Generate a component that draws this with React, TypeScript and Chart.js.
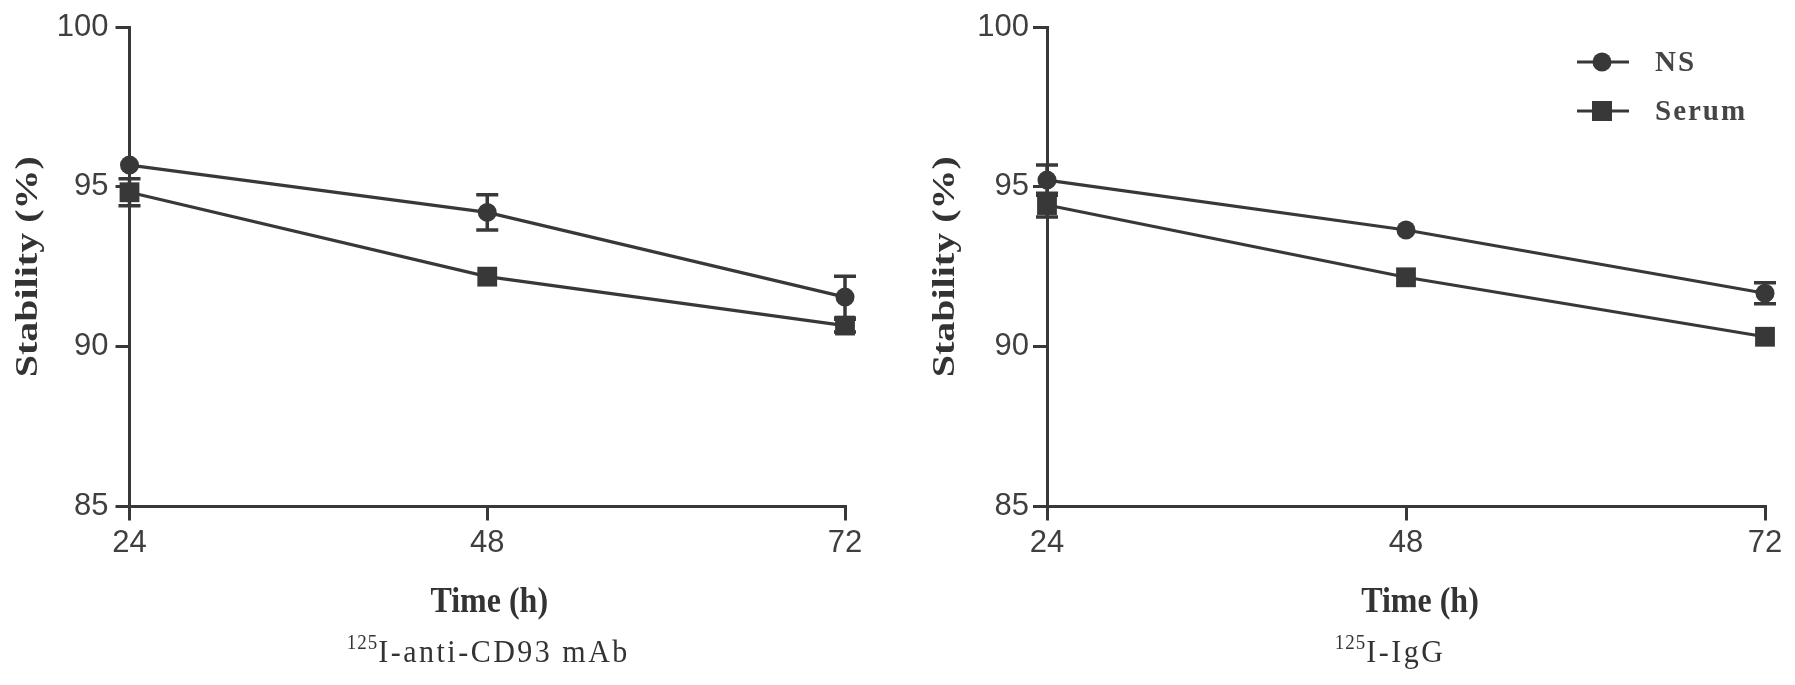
import React, { useEffect, useRef } from "react";
import { Chart, registerables } from "chart.js";

Chart.register(...registerables);

// ---------- data ----------
const timePoints = [24, 48, 72];
const xTickValues = [24, 48, 72];
const yTickValues = [85, 90, 95, 100];
const seriesNames = ["NS", "Serum"];

const cd93NS = [95.68, 94.2, 91.55];
const cd93NSErr = [0, 0.55, 0.65];
const cd93Serum = [94.83, 92.19, 90.66];
const cd93SerumErr = [0.42, 0, 0.2];

const iggNS = [95.21, 93.65, 91.67];
const iggNSErr = [0.47, 0, 0.33];
const iggSerum = [94.43, 92.17, 90.31];
const iggSerumErr = [0.37, 0, 0];

const yTitleText = "Stability (%)";
const xTitleText = "Time (h)";
const leftSubSup = "125";
const leftSubMain = "I-anti-CD93 mAb";
const rightSubSup = "125";
const rightSubMain = "I-IgG";

// ---------- style ----------
const INK = "#383838";
const TEXT = "#3f3f3f";
const H = 685;
const SANS = "'Liberation Sans', Arial, sans-serif";
const SERIF = "'Liberation Serif', 'Times New Roman', serif";

type Panel = {
  left: number;
  width: number;
  area: { left: number; right: number; top: number; bottom: number };
  ns: number[];
  nsErr: number[];
  serum: number[];
  serumErr: number[];
  sup: string;
  main: string;
  legend: boolean;
  tickPad: number;
  xTitleShift: number;
  subShift: number;
};

const panels: Panel[] = [
  {
    left: 0,
    width: 897,
    area: { left: 129.5, right: 845, top: 27, bottom: 506.5 },
    ns: cd93NS,
    nsErr: cd93NSErr,
    serum: cd93Serum,
    serumErr: cd93SerumErr,
    sup: leftSubSup,
    main: leftSubMain,
    legend: false,
    tickPad: 7,
    xTitleShift: 2,
    subShift: 1,
  },
  {
    left: 897,
    width: 898,
    area: { left: 150, right: 868, top: 27, bottom: 506.5 },
    ns: iggNS,
    nsErr: iggNSErr,
    serum: iggSerum,
    serumErr: iggSerumErr,
    sup: rightSubSup,
    main: rightSubMain,
    legend: true,
    tickPad: 4,
    xTitleShift: 14,
    subShift: -16,
  },
];

const errorBarPlugin = {
  id: "errorBars",
  afterDatasetsDraw(chart: any) {
    const ctx = chart.ctx;
    const yScale = chart.scales.y;
    chart.data.datasets.forEach((ds: any, di: number) => {
      const meta = chart.getDatasetMeta(di);
      const errs: number[] = ds.errors || [];
      meta.data.forEach((pt: any, i: number) => {
        const v = ds.data[i].y;
        const e = errs[i] || 0;
        if (!e) return;
        const yt = yScale.getPixelForValue(v + e);
        const yb = yScale.getPixelForValue(v - e);
        const x = pt.x;
        ctx.save();
        ctx.strokeStyle = INK;
        ctx.lineWidth = 3.5;
        ctx.beginPath();
        ctx.moveTo(x, yt);
        ctx.lineTo(x, yb);
        ctx.moveTo(x - 11, yt);
        ctx.lineTo(x + 11, yt);
        ctx.moveTo(x - 11, yb);
        ctx.lineTo(x + 11, yb);
        ctx.stroke();
        ctx.restore();
      });
    });
  },
};

function makeTextPlugin(p: Panel) {
  return {
    id: "panelText",
    afterDraw(chart: any) {
      const ctx = chart.ctx;
      const a = chart.chartArea;
      const cx = (a.left + a.right) / 2;
      ctx.save();
      ctx.fillStyle = "#333333";
      // y title (stretched along its length like the source image)
      ctx.save();
      ctx.translate(a.left - 101, (a.top + a.bottom) / 2);
      ctx.rotate(-Math.PI / 2);
      ctx.scale(1.25, 1);
      ctx.font = `bold 32px ${SERIF}`;
      (ctx as any).letterSpacing = "0px";
      ctx.textAlign = "center";
      ctx.textBaseline = "middle";
      ctx.fillText(yTitleText, 0, 0);
      ctx.restore();
      // x title
      ctx.save();
      ctx.translate(cx + p.xTitleShift, 612);
      ctx.scale(1, 1.1);
      ctx.font = `bold 32px ${SERIF}`;
      (ctx as any).letterSpacing = "0px";
      ctx.textAlign = "center";
      ctx.textBaseline = "alphabetic";
      ctx.fillText(xTitleText, 0, 0);
      ctx.restore();
      // subtitle with superscript
      ctx.textAlign = "left";
      ctx.textBaseline = "alphabetic";
      ctx.font = `19px ${SERIF}`;
      (ctx as any).letterSpacing = "1px";
      const supW = ctx.measureText(p.sup).width;
      ctx.font = `30px ${SERIF}`;
      (ctx as any).letterSpacing = "2.5px";
      const mainW = ctx.measureText(p.main).width;
      const start = cx + p.subShift - (supW + mainW) / 2;
      ctx.save();
      ctx.translate(start, 662);
      ctx.scale(1, 1.08);
      ctx.font = `19px ${SERIF}`;
      (ctx as any).letterSpacing = "1px";
      ctx.fillText(p.sup, 0, -12);
      ctx.font = `30px ${SERIF}`;
      (ctx as any).letterSpacing = "2.5px";
      ctx.fillText(p.main, supW, 0);
      ctx.restore();
      // legend
      if (p.legend) {
        const lx0 = a.right - 188;
        const lx1 = a.right - 136;
        const mx = a.right - 163;
        const tx = a.right - 110;
        const rows = [
          { y: 62, style: "circle" },
          { y: 111, style: "rect" },
        ];
        rows.forEach((r, i) => {
          ctx.strokeStyle = INK;
          ctx.fillStyle = INK;
          ctx.lineWidth = 3;
          ctx.beginPath();
          ctx.moveTo(lx0, r.y);
          ctx.lineTo(lx1, r.y);
          ctx.stroke();
          if (r.style === "circle") {
            ctx.beginPath();
            ctx.arc(mx, r.y, 9.5, 0, Math.PI * 2);
            ctx.fill();
          } else {
            ctx.fillRect(mx - 10, r.y - 10, 20, 20);
          }
          ctx.fillStyle = "#454545";
          ctx.font = `bold 29px ${SERIF}`;
          (ctx as any).letterSpacing = "2px";
          ctx.textAlign = "left";
          ctx.textBaseline = "middle";
          ctx.fillText(seriesNames[i], tx, r.y + 2);
        });
      }
      ctx.restore();
    },
  };
}

function makeConfig(p: Panel): any {
  const pts = (vals: number[]) => timePoints.map((t, i) => ({ x: t, y: vals[i] }));
  const axisGrid = {
    display: true,
    drawOnChartArea: false,
    drawTicks: true,
    tickLength: 14,
    color: INK,
    lineWidth: 3,
  };
  return {
    type: "line",
    data: {
      datasets: [
        {
          label: seriesNames[0],
          data: pts(p.ns),
          errors: p.nsErr,
          borderColor: INK,
          backgroundColor: INK,
          borderWidth: 3.2,
          pointStyle: "circle",
          pointRadius: 9.5,
          pointHoverRadius: 9.5,
          pointBorderWidth: 0,
          tension: 0,
          clip: false,
        },
        {
          label: seriesNames[1],
          data: pts(p.serum),
          errors: p.serumErr,
          borderColor: INK,
          backgroundColor: INK,
          borderWidth: 3.2,
          pointStyle: "rect",
          pointRadius: 14,
          pointHoverRadius: 14,
          pointBorderWidth: 0,
          tension: 0,
          clip: false,
        },
      ],
    },
    options: {
      responsive: false,
      animation: false,
      devicePixelRatio: 1,
      layout: {
        padding: { left: 0, top: p.area.top, right: p.width - p.area.right, bottom: 0 },
      },
      plugins: { legend: { display: false }, tooltip: { enabled: false } },
      scales: {
        x: {
          type: "linear",
          min: 24,
          max: 72,
          afterBuildTicks: (s: any) => {
            s.ticks = xTickValues.map((v) => ({ value: v }));
          },
          afterFit: (s: any) => {
            s.height = H - p.area.bottom;
          },
          grid: axisGrid,
          border: { display: true, color: INK, width: 3 },
          ticks: {
            font: { family: SANS, size: 31 },
            color: TEXT,
            padding: 4,
            maxRotation: 0,
            autoSkip: false,
          },
        },
        y: {
          min: 85,
          max: 100,
          afterBuildTicks: (s: any) => {
            s.ticks = yTickValues.map((v) => ({ value: v }));
          },
          afterFit: (s: any) => {
            s.width = p.area.left;
          },
          grid: axisGrid,
          border: { display: true, color: INK, width: 3 },
          ticks: {
            font: { family: SANS, size: 31 },
            color: TEXT,
            padding: p.tickPad,
            autoSkip: false,
          },
        },
      },
    },
    plugins: [errorBarPlugin, makeTextPlugin(p)],
  };
}

function PanelChart({ p }: { p: Panel }) {
  const ref = useRef<HTMLCanvasElement | null>(null);
  useEffect(() => {
    if (!ref.current) return;
    const chart = new Chart(ref.current, makeConfig(p));
    return () => chart.destroy();
  }, [p]);
  return (
    <canvas
      ref={ref}
      width={p.width}
      height={H}
      style={{ position: "absolute", left: p.left, top: 0, width: p.width, height: H }}
    />
  );
}

export default function App() {
  return (
    <div
      style={{
        position: "absolute",
        left: 0,
        top: 0,
        width: 1795,
        height: H,
        background: "#ffffff",
        overflow: "hidden",
      }}
    >
      {panels.map((p, i) => (
        <PanelChart key={i} p={p} />
      ))}
    </div>
  );
}
